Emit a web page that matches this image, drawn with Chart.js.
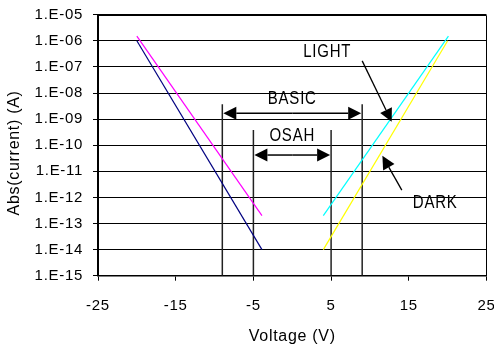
<!DOCTYPE html>
<html>
<head>
<meta charset="utf-8">
<script src="https://cdn.jsdelivr.net/npm/chart.js@4.4.0/dist/chart.umd.min.js"></script>
<style>
  html, body { margin: 0; padding: 0; background: #fff; }
</style>
</head>
<body>
<canvas id="chart" width="494" height="351"></canvas>
<script>
// axis ticks
const xTicks = [-25, -15, -5, 5, 15, 25];
const yTicks = [1e-15, 1e-14, 1e-13, 1e-12, 1e-11, 1e-10, 1e-9, 1e-8, 1e-7, 1e-6, 1e-5];
const yTickLabels = ['1.E-15', '1.E-14', '1.E-13', '1.E-12', '1.E-11', '1.E-10',
  '1.E-09', '1.E-08', '1.E-07', '1.E-06', '1.E-05'];

// I-V lines, reverse side
const navyV = [-20, -3.9];
const navyI = [1e-6, 1e-14];
const magentaV = [-20, -3.9];
const magentaI = [1.5e-6, 2e-13];
// forward side
const cyanV = [4, 20.1];
const cyanI = [2e-13, 1.5e-6];
const yellowV = [4, 20];
const yellowI = [1e-14, 1e-6];

// window markers
const basicEdges = [-9, 9];
const osahEdges = [-5, 5];
const basicTop = 3.7e-9;
const osahTop = 3.8e-10;
const floorI = 1e-15;
const basicArrowI = 1.66e-9;
const osahArrowI = 4.2e-11;

// text notes
const noteText = ['BASIC', 'OSAH', 'LIGHT', 'DARK'];
const noteV = [0, 0, 4.5, 18.4];
const noteI = [5.9e-9, 2.2e-10, 3.8e-7, 6.1e-13];

// pointer arrows (LIGHT, DARK)
const pointerFromV = [9, 14.1];
const pointerFromI = [1.7e-7, 1.9e-12];
const pointerToV = [12.8, 11.6];
const pointerToI = [7.9e-10, 3.9e-11];

const FONT = '"Liberation Sans", Arial, sans-serif';

function toPoints(xs, ys) {
  return xs.map((x, i) => ({ x, y: ys[i] }));
}

function ivLine(xs, ys, color) {
  return {
    data: toPoints(xs, ys),
    showLine: true,
    borderColor: color,
    borderWidth: 1.2,
    pointRadius: 0,
    fill: false,
  };
}

function marker(v, top) {
  return {
    data: [{ x: v, y: floorI }, { x: v, y: top }],
    showLine: true,
    borderColor: '#222',
    borderWidth: 1.5,
    pointRadius: 0,
  };
}

function arrow(ctx, x1, y1, x2, y2) {
  const len = 13, half = 6.5;
  const ang = Math.atan2(y2 - y1, x2 - x1);
  const bx = x2 - len * Math.cos(ang);
  const by = y2 - len * Math.sin(ang);
  ctx.beginPath();
  ctx.moveTo(x1, y1);
  ctx.lineTo(bx, by);
  ctx.stroke();
  ctx.beginPath();
  ctx.moveTo(x2, y2);
  ctx.lineTo(bx + half * Math.sin(ang), by - half * Math.cos(ang));
  ctx.lineTo(bx - half * Math.sin(ang), by + half * Math.cos(ang));
  ctx.closePath();
  ctx.fill();
}

const notesPlugin = {
  id: 'notes',
  beforeDraw(chart) {
    chart.ctx.letterSpacing = '0.7px';
  },
  afterDatasetsDraw(chart) {
    const { ctx, chartArea: a, scales: { x, y } } = chart;
    ctx.save();
    ctx.strokeStyle = '#000';
    ctx.fillStyle = '#000';
    ctx.lineWidth = 1;

    // top and right frame
    ctx.beginPath();
    ctx.moveTo(a.left, Math.round(a.top) + 0.5);
    ctx.lineTo(Math.round(a.right) - 0.5, Math.round(a.top) + 0.5);
    ctx.lineTo(Math.round(a.right) - 0.5, a.bottom);
    ctx.stroke();

    // BASIC / OSAH double arrows
    ctx.lineWidth = 1.5;
    [[basicEdges, basicArrowI], [osahEdges, osahArrowI]].forEach(([edges, i]) => {
      const py = y.getPixelForValue(i);
      const l = x.getPixelForValue(edges[0]) + 1;
      const r = x.getPixelForValue(edges[1]) - 1;
      const mid = (l + r) / 2;
      arrow(ctx, mid, py, l, py);
      arrow(ctx, mid, py, r, py);
    });

    // LIGHT / DARK pointers
    ctx.lineWidth = 1.3;
    pointerFromV.forEach((v, k) => {
      arrow(ctx,
        x.getPixelForValue(v), y.getPixelForValue(pointerFromI[k]),
        x.getPixelForValue(pointerToV[k]), y.getPixelForValue(pointerToI[k]));
    });

    // labels
    ctx.font = '15px ' + FONT;
    ctx.letterSpacing = '0.8px';
    ctx.textAlign = 'center';
    ctx.textBaseline = 'middle';
    noteText.forEach((t, k) => {
      ctx.save();
      ctx.translate(x.getPixelForValue(noteV[k]), y.getPixelForValue(noteI[k]));
      ctx.scale(1, 1.2);
      ctx.fillText(t, 0, 0);
      ctx.restore();
    });
    ctx.restore();
  },
};

new Chart(document.getElementById('chart'), {
  type: 'scatter',
  data: {
    datasets: [
      ivLine(navyV, navyI, '#000080'),
      ivLine(magentaV, magentaI, '#ff00ff'),
      ivLine(cyanV, cyanI, '#00ffff'),
      ivLine(yellowV, yellowI, '#ffff00'),
      marker(basicEdges[0], basicTop),
      marker(basicEdges[1], basicTop),
      marker(osahEdges[0], osahTop),
      marker(osahEdges[1], osahTop),
    ],
  },
  options: {
    responsive: false,
    animation: false,
    devicePixelRatio: 1,
    layout: { padding: { left: 0, right: 7.5, top: 14.7, bottom: 0 } },
    plugins: {
      legend: { display: false },
      tooltip: { enabled: false },
    },
    scales: {
      x: {
        type: 'linear',
        min: -25,
        max: 25,
        afterBuildTicks: (s) => { s.ticks = xTicks.map((v) => ({ value: v })); },
        afterFit: (s) => { s.height = 75.3; s.paddingLeft = 0; s.paddingRight = 0; },
        grid: { drawOnChartArea: false, drawTicks: true, tickLength: 5, color: '#000' },
        border: { color: '#000', width: 1.5 },
        ticks: {
          color: '#000',
          padding: 16,
          maxRotation: 0,
          font: { family: FONT, size: 15 },
        },
        title: {
          display: true,
          text: 'Voltage (V)',
          color: '#000',
          padding: { top: 0, bottom: 5 },
          font: { family: FONT, size: 16 },
        },
      },
      y: {
        type: 'logarithmic',
        min: 1e-15,
        max: 1e-5,
        afterBuildTicks: (s) => { s.ticks = yTicks.map((v) => ({ value: v })); },
        afterFit: (s) => { s.width = 98; s.paddingTop = 0; s.paddingBottom = 0; },
        grid: { color: '#000', lineWidth: 1, tickLength: 5 },
        border: { color: '#000', width: 2 },
        ticks: {
          color: '#000',
          padding: 10,
          font: { family: FONT, size: 15 },
          callback: (v) => {
            const k = yTicks.findIndex((t) => Math.abs(Math.log10(t) - Math.log10(v)) < 1e-6);
            return k >= 0 ? yTickLabels[k] : '';
          },
        },
        title: {
          display: true,
          // trailing spaces nudge the rotated title down to match the original
          text: 'Abs(current) (A)   ',
          color: '#000',
          padding: { top: 5, bottom: 0 },
          font: { family: FONT, size: 16 },
        },
      },
    },
  },
  plugins: [notesPlugin],
});
</script>
</body>
</html>
